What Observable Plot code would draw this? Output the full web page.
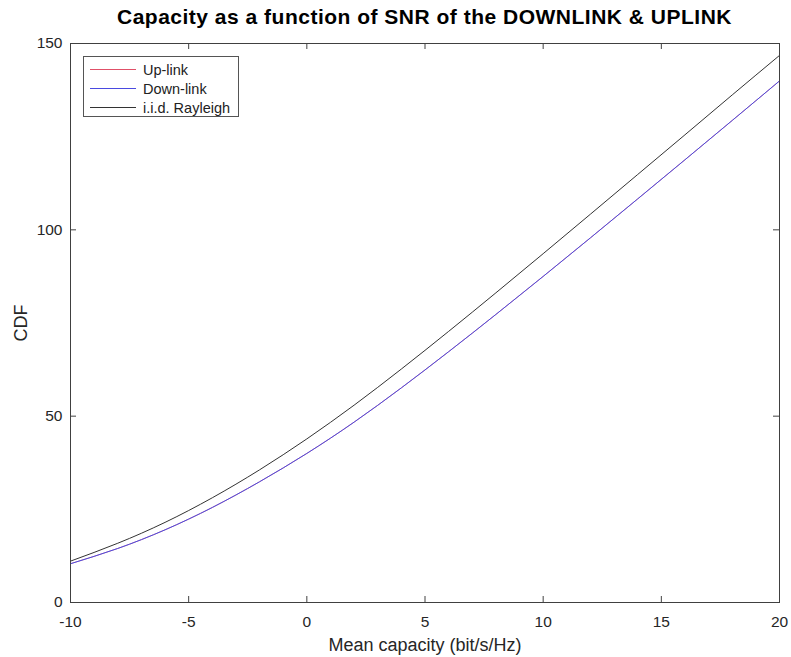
<!DOCTYPE html>
<html>
<head>
<meta charset="utf-8">
<script src="https://cdn.jsdelivr.net/npm/d3@7"></script>
<script src="https://cdn.jsdelivr.net/npm/@observablehq/plot@0.6"></script>
<style>
  body { margin: 0; background: #fff; font-family: "Liberation Sans", Arial, Helvetica, sans-serif; }
  #wrap { position: relative; width: 791px; height: 657px; overflow: hidden; }
  #title { position: absolute; top: 5.5px; left: 424.5px; transform: translateX(-50%); white-space: nowrap;
           font-weight: bold; font-size: 21px; line-height: 21px; letter-spacing: 0.5px; color: #000; }
  #chart { position: absolute; top: 30px; left: 0; }
  #legend { position: absolute; left: 83px; top: 56px; width: 156px; height: 61px; box-sizing: border-box;
            border: 1px solid #555; background: #fff; font-size: 14.5px; color: #222; }
  .row { position: absolute; left: 0; height: 18px; width: 100%; }
  .sw { position: absolute; left: 6px; width: 46px; top: 8px; height: 1px; }
  .lb { position: absolute; left: 59px; top: 0; line-height: 18px; white-space: nowrap; }
</style>
</head>
<body>
<div id="wrap">
  <div id="title">Capacity as a function of SNR of the DOWNLINK &amp; UPLINK</div>
  <div id="chart"></div>
  <div id="legend"></div>
</div>
<script>
// SNR (dB) sample points
const snr = [-10, -8, -6, -4, -2, 0, 2, 4, 6, 8, 10, 12, 14, 16, 18, 20];
// Series values
const uplink   = [10.4, 14.5, 19.5, 25.5, 32.4, 40.0, 48.4, 57.6, 67.3, 77.3, 87.5, 97.85, 108.3, 118.8, 129.35, 139.95];
const downlink = [10.4, 14.5, 19.5, 25.5, 32.4, 40.0, 48.4, 57.6, 67.3, 77.3, 87.5, 97.85, 108.3, 118.8, 129.35, 139.95];
const rayleigh = [11.1, 15.9, 21.5, 28.1, 35.6, 43.9, 52.95, 62.65, 72.75, 83.1, 93.6, 104.2, 114.85, 125.5, 136.2, 146.8];
// Series names and colours
const seriesNames = ["Up-link", "Down-link", "i.i.d. Rayleigh"];
const seriesColors = ["#e05068", "#4a4ae0", "#333333"];
const seriesWidths = [0.7, 1, 1];
// Tick labels
const xTicks = [-10, -5, 0, 5, 10, 15, 20];
const yTicks = [0, 50, 100, 150];

const seriesValues = [uplink, downlink, rayleigh];
const data = [];
seriesNames.forEach((name, i) => {
  snr.forEach((x, j) => data.push({series: name, x, y: seriesValues[i][j]}));
});

const W = 791, H = 627;
const mL = 70, mR = 12, mT = 13, mB = 55;
const pw = W - mL - mR, ph = H - mT - mB;
const axisColor = "#404040";

const chart = Plot.plot({
  width: W, height: H,
  marginLeft: mL, marginRight: mR, marginTop: mT, marginBottom: mB,
  style: { fontFamily: "'Liberation Sans', Arial, Helvetica, sans-serif", background: "#fff", color: "#262626" },
  x: { domain: [-10, 20] },
  y: { domain: [0, 150] },
  color: { domain: seriesNames, range: seriesColors },
  marks: [
    Plot.axisX(xTicks, { anchor: "bottom", tickSize: 0, tickPadding: 13, fontSize: 15.5, tickFormat: d => String(d),
      label: "Mean capacity (bit/s/Hz)", labelAnchor: "center", labelArrow: "none", labelOffset: 48 }),
    Plot.axisY(yTicks, { anchor: "left", tickSize: 0, tickPadding: 8, fontSize: 15.5, tickFormat: d => String(d),
      label: "CDF", labelAnchor: "center", labelArrow: "none", labelOffset: 56 }),
    Plot.tickX(xTicks, { x: d => d, stroke: axisColor, strokeWidth: 1, insetTop: ph - 6 }),
    Plot.tickX(xTicks, { x: d => d, stroke: axisColor, strokeWidth: 1, insetBottom: ph - 6 }),
    Plot.tickY(yTicks, { y: d => d, stroke: axisColor, strokeWidth: 1, insetRight: pw - 6 }),
    Plot.tickY(yTicks, { y: d => d, stroke: axisColor, strokeWidth: 1, insetLeft: pw - 6 }),
    ...seriesNames.map((name, i) =>
      Plot.line(data.filter(d => d.series === name), { x: "x", y: "y", stroke: "series", strokeWidth: seriesWidths[i], curve: "natural" })),
    Plot.frame({ stroke: axisColor, strokeWidth: 1 })
  ]
});
chart.querySelectorAll("g[aria-label='x-axis label'] text, g[aria-label='y-axis label'] text").forEach(t => t.setAttribute("font-size", "18"));
document.getElementById("chart").appendChild(chart);

const legend = document.getElementById("legend");
const rowTops = [4, 22.5, 41.5];
seriesNames.forEach((name, i) => {
  const row = document.createElement("div");
  row.className = "row";
  row.style.top = rowTops[i] + "px";
  const sw = document.createElement("div");
  sw.className = "sw";
  sw.style.backgroundColor = seriesColors[i];
  const lb = document.createElement("div");
  lb.className = "lb";
  lb.textContent = name;
  row.appendChild(sw); row.appendChild(lb);
  legend.appendChild(row);
});
</script>
</body>
</html>
